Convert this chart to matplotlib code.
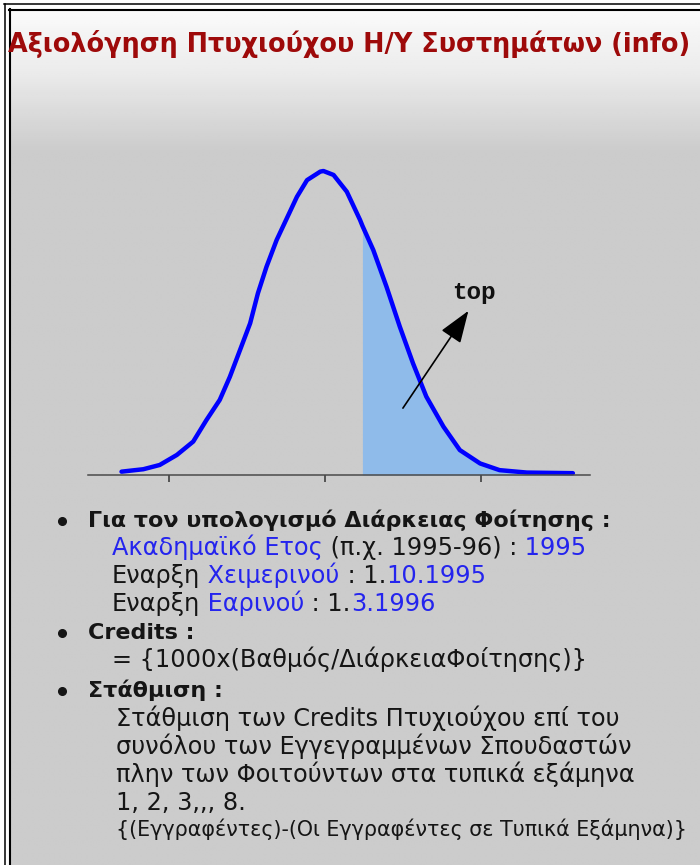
import numpy as np
import matplotlib
matplotlib.use('Agg')
import matplotlib.pyplot as plt
from matplotlib.patches import FancyArrowPatch

W, H = 700, 865  # picture size in pixels

# Bell curve: x in tick units (ticks at -2, 0, 2), y relative to the peak
curve_x = [-2.61, -2.33, -2.12, -1.90, -1.69, -1.52, -1.35, -1.22, -1.09, -0.96, -0.86,
           -0.75, -0.62, -0.49, -0.36, -0.23, -0.06, -0.02, 0.11, 0.28, 0.45, 0.48,
           0.62, 0.79, 0.96, 1.13, 1.30, 1.52, 1.73, 1.99, 2.24, 2.59, 3.18]
curve_y = [0.011, 0.019, 0.033, 0.066, 0.110, 0.181, 0.247, 0.323, 0.411, 0.499, 0.598,
           0.685, 0.773, 0.844, 0.915, 0.970, 0.998, 1.000, 0.987, 0.932, 0.839, 0.820,
           0.740, 0.619, 0.488, 0.367, 0.258, 0.159, 0.082, 0.038, 0.016, 0.008, 0.006]
tick_x = [-2, 0, 2]
shade_from = 0.48      # start of the shaded "top" tail
arrow_tail = (1.00, 0.22)
arrow_head = (1.84, 0.54)
arrow_label = 'top'
label_pos = (1.91, 0.60)

title = 'Αξιολόγηση Πτυχιούχου Η/Υ Συστημάτων (info)'
headings = ['Για τον υπολογισμό Διάρκειας Φοίτησης :', 'Credits :', 'Στάθμιση :']
# (text, is_link) pieces of the lines with blue words
year_line = [('Ακαδημαϊκό Ετος', True), (' (π.χ. 1995-96) :', False), (' 1995', True)]
winter_line = [('Εναρξη', False), (' Χειμερινού', True), (' : 1.', False), ('10.1995', True)]
spring_line = [('Εναρξη', False), (' Εαρινού', True), (' : 1.', False), ('3.1996', True)]
credits_formula = '= {1000x(Βαθμός/ΔιάρκειαΦοίτησης)}'
weighting_text = ['Στάθμιση των Credits Πτυχιούχου επί του',
                  'συνόλου των Εγγεγραμμένων Σπουδαστών',
                  'πλην των Φοιτούντων στα τυπικά εξάμηνα',
                  '1, 2, 3,,, 8.']
weighting_formula = '{(Εγγραφέντες)-(Οι Εγγραφέντες σε Τυπικά Εξάμηνα)}'

LINK = '#2424ee'
INK = '#151515'
BODY_SIZE = 17.3
HEAD_SIZE = 16.0

plt.rcParams['font.family'] = ['DejaVu Sans']


def fx(px):
    return px / W


def fy(py):
    return 1 - py / H


def draw_pieces(bg, x, base, pieces, size):
    # first piece sits on the baseline, the rest follow on from its right edge
    text, link = pieces[0]
    prev = bg.text(x, base, text, color=LINK if link else INK, fontsize=size, va='baseline')
    for text, link in pieces[1:]:
        prev = bg.annotate(text, xy=(1, 0), xycoords=prev, va='bottom',
                           color=LINK if link else INK, fontsize=size)


def main():
    fig = plt.figure(figsize=(W / 100, H / 100), dpi=100)

    # page background with the grey fade and the double frame
    bg = fig.add_axes([0, 0, 1, 1])
    bg.set_xlim(0, W)
    bg.set_ylim(H, 0)
    bg.axis('off')
    rows = np.linspace(10, H, 400)
    grey = np.interp(rows, [10, 30, 70, 110, 150], [0.985, 0.96, 0.925, 0.86, 0.80])
    bg.imshow(np.repeat(grey[:, None], 2, axis=1), cmap='gray', vmin=0, vmax=1,
              extent=[10, W, H, 10], aspect='auto', interpolation='bilinear', zorder=0)
    bg.plot([4, W], [4, 4], color='k', lw=1.1, zorder=1)
    bg.plot([5, 5], [4, H], color='k', lw=1.1, zorder=1)
    bg.plot([9, W], [9.5, 9.5], color='k', lw=1.5, zorder=1)
    bg.plot([9.5, 9.5], [9, H], color='k', lw=1.5, zorder=1)

    bg.text(8, 52, title, color='#9e0a0a', fontsize=18.4, fontweight='bold', va='baseline')

    # the curve
    ax = fig.add_axes([fx(88), fy(475), 502 / W, 334.4 / H])
    ax.set_xlim(-3.04, 3.40)
    ax.set_ylim(0, 1.1)
    ax.patch.set_alpha(0)
    for side in ['top', 'left', 'right']:
        ax.spines[side].set_visible(False)
    ax.spines['bottom'].set_color('#4a4a4a')
    ax.spines['bottom'].set_linewidth(1.1)
    ax.set_xticks(tick_x)
    ax.set_xticklabels([])
    ax.set_yticks([])
    ax.tick_params(axis='x', length=5, width=1.1, color='#333333')

    xs = np.array(curve_x)
    ys = np.array(curve_y)
    tail = xs >= shade_from
    ax.fill_between(xs[tail], 0, ys[tail], color='#8fbbea', lw=0, zorder=1)
    ax.plot(xs, ys, color='#0000ff', lw=3.2, solid_joinstyle='round',
            solid_capstyle='round', clip_on=False, zorder=2)

    ax.add_patch(FancyArrowPatch(arrow_tail, arrow_head,
                                 arrowstyle='-|>,head_length=1.0,head_width=0.36',
                                 mutation_scale=20, color='k', lw=1.2,
                                 shrinkA=0, shrinkB=0, zorder=3))
    ax.text(*label_pos, arrow_label, family='Liberation Mono', fontweight='bold',
            fontsize=17.5, ha='center', va='center', color='#111111')

    # bullet list under the chart
    head_base = [527, 639, 697]
    for heading, base in zip(headings, head_base):
        bg.plot(62, base - 6, 'o', ms=5.5, color=INK, zorder=2)
        bg.text(88, base, heading, fontsize=HEAD_SIZE, fontweight='bold', va='baseline', color=INK)

    draw_pieces(bg, 112, 555, year_line, BODY_SIZE)
    draw_pieces(bg, 112, 583, winter_line, BODY_SIZE)
    draw_pieces(bg, 112, 611, spring_line, BODY_SIZE)
    bg.text(112, 667, credits_formula, fontsize=BODY_SIZE, va='baseline', color=INK)

    for i, line in enumerate(weighting_text):
        bg.text(116, 726 + 28 * i, line, fontsize=BODY_SIZE, va='baseline', color=INK)
    bg.text(116, 836, weighting_formula, fontsize=14.9, va='baseline', color=INK)

    fig.savefig('out.png', dpi=100)


if __name__ == '__main__':
    main()
